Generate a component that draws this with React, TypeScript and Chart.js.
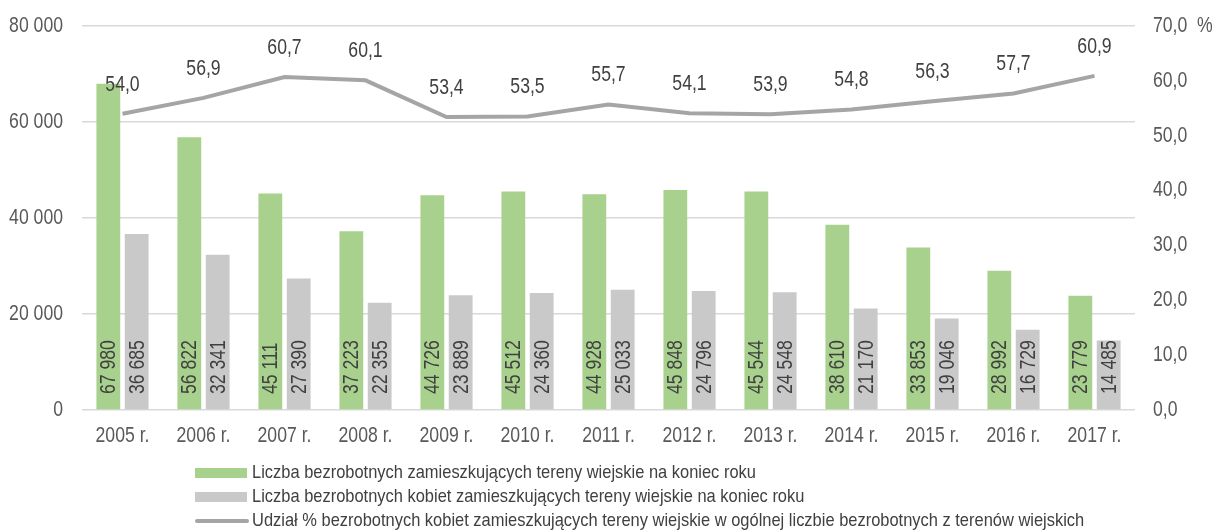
import React, { useEffect, useRef } from 'react';
import { Chart, registerables } from 'chart.js';

Chart.register(...registerables);

const years = ['2005 r.', '2006 r.', '2007 r.', '2008 r.', '2009 r.', '2010 r.', '2011 r.', '2012 r.', '2013 r.', '2014 r.', '2015 r.', '2016 r.', '2017 r.'];
const ruralUnemployed = [67980, 56822, 45111, 37223, 44726, 45512, 44928, 45848, 45544, 38610, 33853, 28992, 23779];
const ruralWomenUnemployed = [36685, 32341, 27390, 22355, 23889, 24360, 25033, 24796, 24548, 21170, 19046, 16729, 14485];
const womenSharePct = [54.0, 56.9, 60.7, 60.1, 53.4, 53.5, 55.7, 54.1, 53.9, 54.8, 56.3, 57.7, 60.9];
const leftTicks = [0, 20000, 40000, 60000, 80000];
const rightTicks = [0, 10, 20, 30, 40, 50, 60, 70];
const seriesNames = [
  'Liczba bezrobotnych zamieszkujących tereny wiejskie na koniec roku',
  'Liczba bezrobotnych kobiet zamieszkujących tereny wiejskie na koniec roku',
  'Udział % bezrobotnych kobiet zamieszkujących tereny wiejskie w ogólnej liczbie bezrobotnych z terenów wiejskich',
];
const rightUnit = '%';

const FONT = '"Liberation Sans", Arial, sans-serif';
const NARROW = 0.82;
const GREEN = '#a9d18e';
const GRAY = '#c9c9c9';
const LINE = '#a5a5a5';
const TEXT = '#404040';
const AXIS_TEXT = '#595959';

const fmtInt = (n: number) => String(n).replace(/\B(?=(\d{3})+(?!\d))/g, ' ');
const fmtDec = (n: number) => n.toFixed(1).replace('.', ',');

function narrowText(
  ctx: CanvasRenderingContext2D,
  text: string,
  x: number,
  y: number,
  opts: { size: number; color: string; align: CanvasTextAlign; rotate?: boolean; squeeze?: number }
) {
  ctx.save();
  ctx.translate(x, y);
  if (opts.rotate) ctx.rotate(-Math.PI / 2);
  ctx.scale(opts.squeeze ?? NARROW, 1);
  ctx.font = `${opts.size}px ${FONT}`;
  ctx.fillStyle = opts.color;
  ctx.textAlign = opts.align;
  ctx.textBaseline = 'middle';
  ctx.fillText(text, 0, 0);
  ctx.restore();
}

const labelsPlugin = {
  id: 'customLabels',
  afterDatasetsDraw(chart: any) {
    const ctx = chart.ctx as CanvasRenderingContext2D;
    const yScale = chart.scales.y;
    const base = yScale.getPixelForValue(0);
    [0, 1].forEach((di) => {
      const meta = chart.getDatasetMeta(di);
      const data = chart.data.datasets[di].data as number[];
      meta.data.forEach((el: any, i: number) => {
        narrowText(ctx, fmtInt(data[i]), el.x + 1, base - 16, { size: 21.5, color: TEXT, align: 'left', rotate: true });
      });
    });
    const lmeta = chart.getDatasetMeta(2);
    const ldata = chart.data.datasets[2].data as number[];
    lmeta.data.forEach((el: any, i: number) => {
      narrowText(ctx, fmtDec(ldata[i]), el.x, el.y - 29, { size: 21.5, color: TEXT, align: 'center' });
    });
  },
  afterDraw(chart: any) {
    const ctx = chart.ctx as CanvasRenderingContext2D;
    const { x, y, y1 } = chart.scales;
    const area = chart.chartArea;

    // axis tick labels, positioned by the library's scales
    y.ticks.forEach((t: any) => {
      narrowText(ctx, fmtInt(t.value), area.left - 19, y.getPixelForValue(t.value), { size: 21.5, color: AXIS_TEXT, align: 'right' });
    });
    y1.ticks.forEach((t: any) => {
      narrowText(ctx, fmtDec(t.value), area.right + 18, y1.getPixelForValue(t.value), { size: 21.5, color: AXIS_TEXT, align: 'left' });
    });
    narrowText(ctx, rightUnit, area.right + 62, y1.getPixelForValue(70), { size: 21.5, color: AXIS_TEXT, align: 'left' });
    (chart.data.labels as string[]).forEach((lab, i) => {
      narrowText(ctx, lab, x.getPixelForTick(i), area.bottom + 26, { size: 21.5, color: AXIS_TEXT, align: 'center' });
    });

    // legend
    const x0 = 195;
    const boxW = 52;
    const rows = [473, 497, 521];
    rows.forEach((ry, i) => {
      ctx.save();
      if (i === 0) {
        ctx.fillStyle = GREEN;
        ctx.fillRect(x0, ry - 5, boxW, 10);
      } else if (i === 1) {
        ctx.fillStyle = GRAY;
        ctx.fillRect(x0, ry - 5, boxW, 10);
      } else {
        ctx.strokeStyle = LINE;
        ctx.lineWidth = 4;
        ctx.lineCap = 'round';
        ctx.beginPath();
        ctx.moveTo(x0 + 2, ry);
        ctx.lineTo(x0 + boxW, ry);
        ctx.stroke();
      }
      ctx.restore();
      narrowText(ctx, seriesNames[i], x0 + boxW + 5, ry, { size: 19, color: TEXT, align: 'left', squeeze: 0.866 });
    });
  },
};

export default function App() {
  const canvasRef = useRef<HTMLCanvasElement | null>(null);

  useEffect(() => {
    if (!canvasRef.current) return;
    const chart = new Chart(canvasRef.current, {
      type: 'bar',
      data: {
        labels: years,
        datasets: [
          {
            type: 'bar',
            label: seriesNames[0],
            data: ruralUnemployed,
            backgroundColor: GREEN,
            yAxisID: 'y',
            order: 2,
            categoryPercentage: 0.7,
            barPercentage: 0.84,
          },
          {
            type: 'bar',
            label: seriesNames[1],
            data: ruralWomenUnemployed,
            backgroundColor: GRAY,
            yAxisID: 'y',
            order: 2,
            categoryPercentage: 0.7,
            barPercentage: 0.84,
          },
          {
            type: 'line',
            label: seriesNames[2],
            data: womenSharePct,
            borderColor: LINE,
            borderWidth: 4,
            pointRadius: 0,
            tension: 0,
            yAxisID: 'y1',
            order: 1,
          } as any,
        ],
      },
      options: {
        animation: false,
        responsive: true,
        maintainAspectRatio: false,
        layout: { padding: { top: 26, bottom: 82, left: 0, right: 0 } },
        plugins: {
          legend: { display: false },
          tooltip: { enabled: false },
        },
        scales: {
          x: {
            grid: { display: false },
            border: { display: false },
            ticks: { display: false, autoSkip: false },
            afterFit: (s: any) => { s.height = 40; },
          },
          y: {
            position: 'left',
            min: 0,
            max: 80000,
            afterBuildTicks: (s: any) => { s.ticks = leftTicks.map((v) => ({ value: v })); },
            grid: { color: '#d9d9d9', lineWidth: 1.5, drawTicks: false },
            border: { display: false },
            ticks: { display: false },
            afterFit: (s: any) => { s.width = 82; },
          },
          y1: {
            position: 'right',
            min: 0,
            max: 70,
            afterBuildTicks: (s: any) => { s.ticks = rightTicks.map((v) => ({ value: v })); },
            grid: { display: false, drawTicks: false },
            border: { display: false },
            ticks: { display: false },
            afterFit: (s: any) => { s.width = 87; },
          },
        },
      },
      plugins: [labelsPlugin],
    });
    return () => chart.destroy();
  }, []);

  return (
    <div style={{ position: 'fixed', left: 0, top: 0, width: 1222, height: 532, background: '#fff' }}>
      <canvas ref={canvasRef} />
    </div>
  );
}
